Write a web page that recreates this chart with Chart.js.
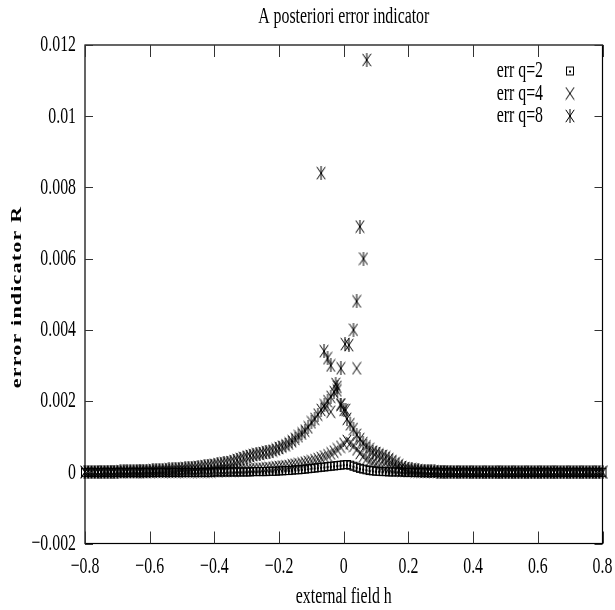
<!DOCTYPE html>
<html>
<head>
<meta charset="utf-8">
<script src="https://cdn.jsdelivr.net/npm/chart.js@4.4.0/dist/chart.umd.min.js"></script>
<style>
  html, body { margin: 0; padding: 0; background: #fff; }
  canvas { display: block; }
</style>
</head>
<body>
<canvas id="chart" width="615" height="610"></canvas>
<script>
// external field h, one point every 0.01
const hGrid = [
  -0.80,-0.79,-0.78,-0.77,-0.76,-0.75,-0.74,-0.73,-0.72,-0.71,
  -0.70,-0.69,-0.68,-0.67,-0.66,-0.65,-0.64,-0.63,-0.62,-0.61,
  -0.60,-0.59,-0.58,-0.57,-0.56,-0.55,-0.54,-0.53,-0.52,-0.51,
  -0.50,-0.49,-0.48,-0.47,-0.46,-0.45,-0.44,-0.43,-0.42,-0.41,
  -0.40,-0.39,-0.38,-0.37,-0.36,-0.35,-0.34,-0.33,-0.32,-0.31,
  -0.30,-0.29,-0.28,-0.27,-0.26,-0.25,-0.24,-0.23,-0.22,-0.21,
  -0.20,-0.19,-0.18,-0.17,-0.16,-0.15,-0.14,-0.13,-0.12,-0.11,
  -0.10,-0.09,-0.08,-0.07,-0.06,-0.05,-0.04,-0.03,-0.02,-0.01,
  0.00,0.01,0.02,0.03,0.04,0.05,0.06,0.07,0.08,0.09,
  0.10,0.11,0.12,0.13,0.14,0.15,0.16,0.17,0.18,0.19,
  0.20,0.21,0.22,0.23,0.24,0.25,0.26,0.27,0.28,0.29,
  0.30,0.31,0.32,0.33,0.34,0.35,0.36,0.37,0.38,0.39,
  0.40,0.41,0.42,0.43,0.44,0.45,0.46,0.47,0.48,0.49,
  0.50,0.51,0.52,0.53,0.54,0.55,0.56,0.57,0.58,0.59,
  0.60,0.61,0.62,0.63,0.64,0.65,0.66,0.67,0.68,0.69,
  0.70,0.71,0.72,0.73,0.74,0.75,0.76,0.77,0.78,0.79,
  0.80
];

// err q=2 (squares)
const errQ2 = [
  0,0,0,0,0,0,0,0,0,0,
  0,0,0,0,0,0,0,0,0,0,
  0,0,0,0,0,0,0,0,0,0,
  0,0,0,0,0,0,0,0,0,0,
  0.00001,0.00001,0.00001,0.00001,0.00001,0.00001,0.00001,0.00001,0.00001,0.00001,
  0.00001,0.00001,0.00002,0.00002,0.00002,0.00002,0.00002,0.00003,0.00003,0.00003,
  0.00004,0.00004,0.00005,0.00005,0.00006,0.00007,0.00007,0.00008,0.00009,0.00010,
  0.00011,0.00012,0.00013,0.00014,0.00015,0.00016,0.00017,0.00018,0.00019,0.00020,
  0.00021,0.00022,0.00020,0.00017,0.00014,0.00011,0.00009,0.00007,0.00005,0.00004,
  0.00003,0.00003,0.00002,0.00002,0.00001,0.00001,0.00001,0.00001,0.00001,0,
  0,0,0,0,0,0,0,0,0,0,
  0,0,0,0,0,0,0,0,0,0,
  0,0,0,0,0,0,0,0,0,0,
  0,0,0,0,0,0,0,0,0,0,
  0,0,0,0,0,0,0,0,0,0,
  0,0,0,0,0,0,0,0,0,0,
  0
];

// err q=4 (crosses)
const errQ4 = [
  0,0,0,0,0,0,0,0,0,0,
  0,0,0,0,0,0,0,0,0,0,
  0.00001,0.00001,0.00001,0.00001,0.00001,0.00001,0.00001,0.00001,0.00001,0.00001,
  0.00002,0.00002,0.00002,0.00002,0.00002,0.00002,0.00002,0.00002,0.00002,0.00002,
  0.00003,0.00003,0.00004,0.00004,0.00004,0.00005,0.00005,0.00006,0.00006,0.00007,
  0.00007,0.00008,0.00008,0.00009,0.00010,0.00010,0.00011,0.00012,0.00013,0.00014,
  0.00015,0.00016,0.00017,0.00018,0.00020,0.00021,0.00023,0.00025,0.00027,0.00029,
  0.00031,0.00034,0.00037,0.00040,0.00044,0.00048,0.00053,0.00058,0.00064,0.00072,
  0.00080,0.00088,0.00082,0.00074,0.00064,0.00054,0.00045,0.00038,0.00032,0.00027,
  0.00023,0.00019,0.00016,0.00013,0.00011,0.00009,0.00007,0.00006,0.00005,0.00004,
  0.00003,0.00003,0.00002,0.00002,0.00002,0.00001,0.00001,0.00001,0.00001,0.00001,
  0,0,0,0,0,0,0,0,0,0,
  0,0,0,0,0,0,0,0,0,0,
  0,0,0,0,0,0,0,0,0,0,
  0,0,0,0,0,0,0,0,0,0,
  0,0,0,0,0,0,0,0,0,0,
  0
];

// err q=8 (asterisks)
const errQ8 = [
  0.00001,0.00001,0.00001,0.00001,0.00001,0.00001,0.00002,0.00002,0.00002,0.00002,
  0.00002,0.00003,0.00003,0.00003,0.00003,0.00004,0.00004,0.00004,0.00005,0.00005,
  0.00005,0.00006,0.00006,0.00006,0.00007,0.00007,0.00008,0.00008,0.00009,0.00010,
  0.00010,0.00011,0.00012,0.00013,0.00013,0.00014,0.00015,0.00017,0.00018,0.00019,
  0.00021,0.00022,0.00024,0.00025,0.00027,0.00029,0.00031,0.00034,0.00037,0.00040,
  0.00044,0.00046,0.00048,0.00050,0.00052,0.00054,0.00056,0.00058,0.00061,0.00064,
  0.00068,0.00072,0.00076,0.00081,0.00087,0.00094,0.00101,0.00109,0.00117,0.00126,
  0.00140,0.00150,0.00162,0.00175,0.00188,0.00200,0.00212,0.00225,0.00240,0.00190,
  0.00175,0.00150,0.00135,0.00122,0.00105,0.00093,0.00082,0.00073,0.00065,0.00058,
  0.00054,0.00050,0.00046,0.00042,0.00037,0.00032,0.00026,0.00020,0.00015,0.00012,
  0.00010,0.00008,0.00007,0.00006,0.00005,0.00004,0.00004,0.00003,0.00003,0.00002,
  0.00002,0.00002,0.00002,0.00001,0.00001,0.00001,0.00001,0.00001,0.00001,0.00001,
  0,0,0,0,0,0,0,0,0,0,
  0,0,0,0,0,0,0,0,0,0,
  0,0,0,0,0,0,0,0,0,0,
  0,0,0,0,0,0,0,0,0,0,
  0
];

// scattered values close to h = 0
const q8ExtraH = [0.071, -0.070, 0.050, 0.061, 0.040, 0.030, 0.004, 0.016, -0.061, -0.050, -0.040, -0.009, -0.025, -0.020, -0.009, 0.006];
const q8ExtraR = [0.01158, 0.0084, 0.0069, 0.0060, 0.0048, 0.0040, 0.0036, 0.00357, 0.0034, 0.0032, 0.0030, 0.00292, 0.00248, 0.0023, 0.0019, 0.00175];
const q4ExtraH = [0.040, -0.040, -0.058];
const q4ExtraR = [0.00292, 0.0017, 0.0018];

const xTicks = { min: -0.8, max: 0.8, step: 0.2 };
const yTicks = { min: -0.002, max: 0.012, step: 0.002 };

const FONT = '"Liberation Serif", "Times New Roman", serif';
const SX = 0.66;   // the original lettering is tall and narrow
const FS = 24;

function fmt(v) {
  const r = Math.round(v * 1000) / 1000;
  return (r < 0 ? '\u2212' : '') + String(Math.abs(r));
}

function marker(kind) {
  const c = document.createElement('canvas');
  const g = c.getContext('2d');
  g.strokeStyle = '#000';
  g.fillStyle = '#000';
  g.lineWidth = 1.3;
  if (kind === 'box') {
    c.width = 10; c.height = 11;
    g.strokeRect(1.5, 1.5, 7, 8);
    g.fillRect(4, 5, 2, 2);
  } else {
    c.width = 10; c.height = 14;
    g.beginPath();
    g.moveTo(0.8, 0.8); g.lineTo(9.2, 13.2);
    g.moveTo(9.2, 0.8); g.lineTo(0.8, 13.2);
    if (kind === 'star') {
      g.moveTo(5, 0); g.lineTo(5, 14);
    }
    g.stroke();
    if (kind === 'star') g.fillRect(4, 6, 2, 2);
  }
  return c;
}
const boxImg = marker('box');
const crossImg = marker('cross');
const starImg = marker('star');

function pairs(xs, ys) {
  return xs.map((x, i) => ({ x: x, y: ys[i] }));
}

function squeezed(ctx, text, x, y, align, size, weight) {
  ctx.save();
  ctx.translate(x, y);
  ctx.scale(SX, 1);
  ctx.font = (weight || '') + ' ' + size + 'px ' + FONT;
  ctx.textAlign = align;
  ctx.textBaseline = 'middle';
  ctx.fillStyle = '#000';
  ctx.fillText(text, 0, 0);
  ctx.restore();
}

const gnuplotFrame = {
  id: 'gnuplotFrame',
  afterDatasetsDraw(chart) {
    const ctx = chart.ctx;
    const a = chart.chartArea;
    const xs = chart.scales.x, ys = chart.scales.y;
    ctx.save();
    ctx.strokeStyle = '#000';
    ctx.lineWidth = 1.2;
    ctx.strokeRect(a.left, a.top, a.right - a.left, a.bottom - a.top);
    ctx.lineWidth = 1;
    ctx.strokeStyle = '#333';
    ctx.beginPath();
    xs.ticks.forEach((t, i) => {
      const px = Math.round(xs.getPixelForTick(i)) + 0.5;
      ctx.moveTo(px, a.bottom); ctx.lineTo(px, a.bottom - 12);
      ctx.moveTo(px, a.top); ctx.lineTo(px, a.top + 12);
    });
    ys.ticks.forEach((t, i) => {
      const py = Math.round(ys.getPixelForTick(i)) + 0.5;
      ctx.moveTo(a.left, py); ctx.lineTo(a.left + 8, py);
      ctx.moveTo(a.right, py); ctx.lineTo(a.right - 8, py);
    });
    ctx.stroke();
    ctx.restore();
  },
  afterDraw(chart) {
    const ctx = chart.ctx;
    const a = chart.chartArea;
    const xs = chart.scales.x, ys = chart.scales.y;
    const cx = (a.left + a.right) / 2;

    xs.ticks.forEach((t, i) => squeezed(ctx, t.label, xs.getPixelForTick(i), 567, 'center', FS));
    ys.ticks.forEach((t, i) => squeezed(ctx, t.label, 76, ys.getPixelForTick(i), 'right', FS));

    squeezed(ctx, 'A posteriori error indicator', cx, 17, 'center', FS);
    squeezed(ctx, 'external field h', cx, 597, 'center', FS);

    // rotated y title
    ctx.save();
    ctx.translate(17, 297);
    ctx.scale(SX, 1);
    ctx.rotate(-Math.PI / 2);
    ctx.font = 'bold 22px ' + FONT;
    ctx.letterSpacing = '1.2px';
    ctx.textAlign = 'center';
    ctx.textBaseline = 'middle';
    ctx.fillStyle = '#000';
    ctx.fillText('error indicator R', 0, 0);
    ctx.restore();

    // key, top right inside the frame
    const rows = [['err q=2', boxImg], ['err q=4', crossImg], ['err q=8', starImg]];
    rows.forEach((r, i) => {
      const y = 71 + i * 22.5;
      squeezed(ctx, r[0], 543, y, 'right', FS);
      ctx.drawImage(r[1], 570 - r[1].width / 2, y - r[1].height / 2);
    });
  }
};

new Chart(document.getElementById('chart'), {
  type: 'scatter',
  data: {
    datasets: [
      { label: 'err q=2', data: pairs(hGrid, errQ2), pointStyle: boxImg, pointRadius: 4, order: 3, clip: false },
      { label: 'err q=4', data: pairs(hGrid, errQ4).concat(pairs(q4ExtraH, q4ExtraR)), pointStyle: crossImg, pointRadius: 4, order: 2, clip: false },
      { label: 'err q=8', data: pairs(hGrid, errQ8).concat(pairs(q8ExtraH, q8ExtraR)), pointStyle: starImg, pointRadius: 4, order: 1, clip: false }
    ]
  },
  options: {
    responsive: false,
    animation: false,
    devicePixelRatio: 1,
    layout: { padding: { left: 0, top: 45, right: 12.5, bottom: 0 } },
    plugins: { legend: { display: false }, title: { display: false }, tooltip: { enabled: false } },
    scales: {
      x: {
        type: 'linear', min: xTicks.min, max: xTicks.max,
        ticks: { stepSize: xTicks.step, display: false, callback: fmt },
        grid: { display: false }, border: { display: false },
        afterFit(s) { s.height = 66.5; }
      },
      y: {
        type: 'linear', min: yTicks.min, max: yTicks.max,
        ticks: { stepSize: yTicks.step, display: false, callback: fmt },
        grid: { display: false }, border: { display: false },
        afterFit(s) { s.width = 85; }
      }
    }
  },
  plugins: [gnuplotFrame]
});
</script>
</body>
</html>
